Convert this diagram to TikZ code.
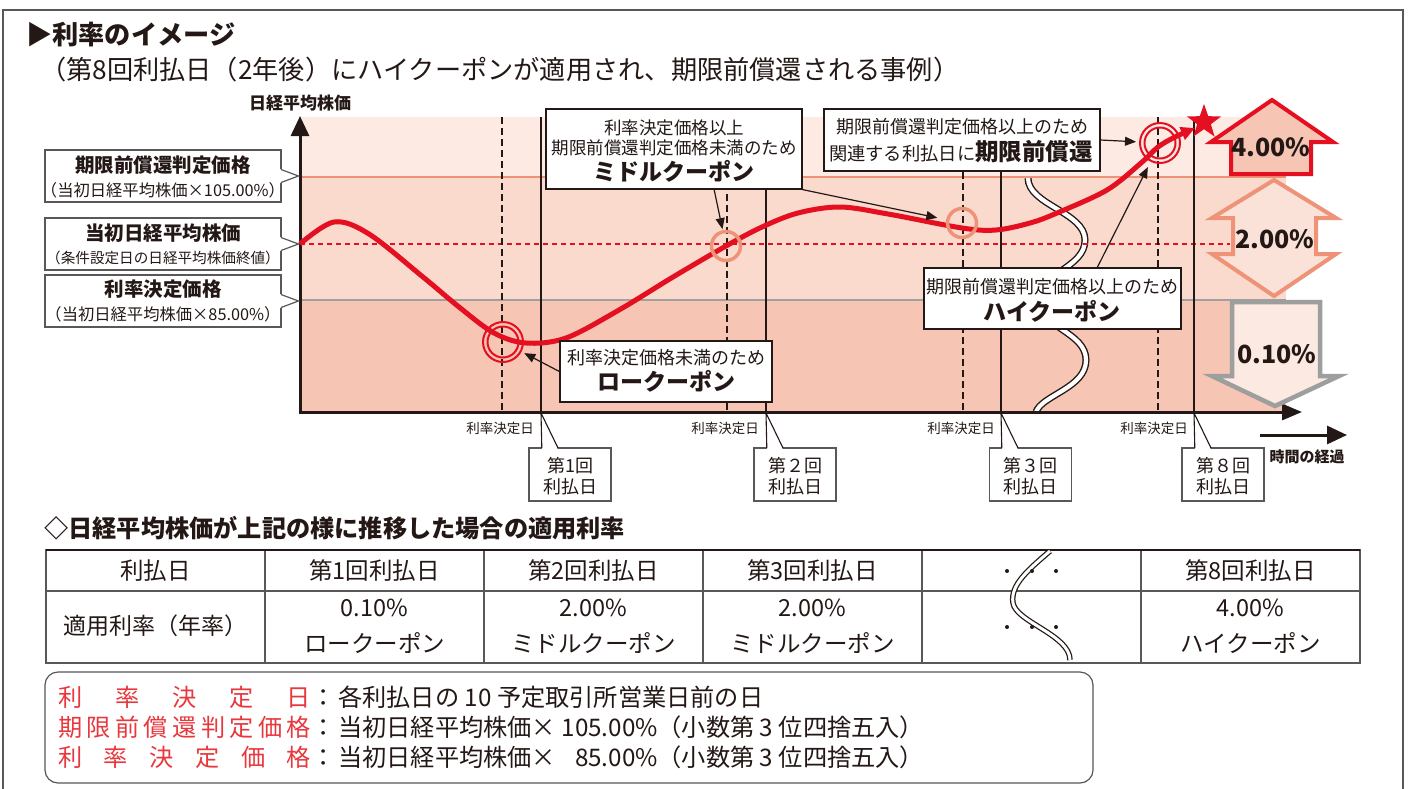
\documentclass[tikz,border=0pt]{standalone}
\usepackage{fontspec}
\setmainfont{Noto Sans CJK JP}
\usetikzlibrary{arrows.meta,shapes.geometric}
\definecolor{ink}{HTML}{231815}
\definecolor{bandA}{HTML}{FCEAE3}
\definecolor{bandB}{HTML}{F9DACD}
\definecolor{bandC}{HTML}{F6C5B3}
\definecolor{cred}{HTML}{E50F22}
\definecolor{salmon}{HTML}{EE9378}
\definecolor{gline}{HTML}{A0A0A0}
\definecolor{arrowB}{HTML}{FBE2D8}
\definecolor{arrowC}{HTML}{FCE9E2}
\definecolor{arrgray}{HTML}{9D9E9E}
\definecolor{redlab}{HTML}{E8383D}
\definecolor{framec}{HTML}{595757}
\definecolor{tabline}{HTML}{595757}
\newcommand{\fsz}[2]{\fontsize{#1}{#2}\selectfont}
\newcommand{\wavepath}{(1028,178) .. controls (1028,205) and (1085,212) .. (1085,240) .. controls (1085,268) and (1040,272) .. (1040,300) .. controls (1040,328) and (1086,332) .. (1086,360) .. controls (1086,388) and (1042,395) .. (1036,412)}
\newcommand{\tabwave}{(1050,551) .. controls (1028,570) and (1010,585) .. (1013,603) .. controls (1016,622) and (1070,635) .. (1070,660)}
\begin{document}
\begin{tikzpicture}[x=1pt,y=-1pt,
  box/.style={draw=ink, line width=1.2pt, fill=white, inner sep=0pt, rectangle},
  lbl/.style={inner sep=0pt, text=ink},
  cal/.style={draw=ink, line width=1.2pt, -{Triangle[length=11pt,width=9pt]}},
  vdash/.style={draw=ink, line width=1.1pt, dash pattern=on 7pt off 4pt},
  vsolid/.style={draw=ink, line width=1.1pt},
  ring/.style={circle, inner sep=0pt},
  tline/.style={draw=tabline, line width=1.2pt}
]
\useasboundingbox (0,0) rectangle (1410,788);
\fill[white] (0,0) rectangle (1410,788);
\draw[framec, line width=1.4pt] (3,792) -- (3,10) -- (1403,10) -- (1403,792);

\node[lbl, anchor=west] (title) at (26,35) {\fsz{26.2}{26}\bfseries ▶利率のイメージ};
\node[lbl, anchor=west] (subtitle) at (40,70) {\fsz{26.2}{26}（第8回利払日（2年後）にハイクーポンが適用され、期限前償還される事例）};

% bands
\fill[bandA] (300,117) rectangle (1286,177);
\fill[bandB] (300,177) rectangle (1286,300);
\fill[bandC] (300,300) rectangle (1286,412);

% wave break
\draw[ink, line width=7pt] \wavepath;
\draw[white, line width=4.2pt] \wavepath;

% horizontal levels
\draw[salmon, line width=2.6pt] (300,177) -- (1286,177);
\draw[gline, line width=2.2pt] (300,300) -- (1286,300);
\draw[cred, line width=2.2pt, dash pattern=on 5pt off 4pt] (300,244) -- (1230,244);

% verticals
\foreach \x in {502,727,963,1158} { \draw[vdash] (\x,117) -- (\x,412); }
\foreach \x in {541,766,1001,1194} { \draw[vsolid] (\x,117) -- (\x,414); }

% axes
\coordinate (O) at (300,413.5);
\coordinate (Ytip) at (300,116);
\coordinate (Xs) at (298.5,412);
\coordinate (Xtip) at (1302,412);
\draw[ink, line width=3pt, -{Triangle[length=20pt,width=18pt]}] (O) -- (Ytip);
\draw[ink, line width=3pt, -{Triangle[length=20pt,width=16pt]}] (Xs) -- (Xtip);
\node[lbl] (ylab) at (300,103) {\fsz{17}{17}\bfseries 日経平均株価};

% right arrows
\draw[cred, line width=4pt, fill=bandC] (1272,100) -- (1333,142) -- (1311,142) -- (1311,174) -- (1231,174) -- (1231,142) -- (1211,142) -- cycle;
\node[lbl] (r4) at (1271,147) {\fsz{25}{25}\bfseries 4.00\%};
\draw[salmon, line width=4pt, fill=arrowB] (1274,180) -- (1336,218) -- (1316,218) -- (1316,254) -- (1336,254) -- (1274,296) -- (1212,254) -- (1233,254) -- (1233,218) -- (1212,218) -- cycle;
\node[lbl] (r2) at (1275,239) {\fsz{25}{25}\bfseries 2.00\%};
\draw[arrgray, line width=4.5pt, fill=arrowC] (1232,302) -- (1320,302) -- (1320,376) -- (1339,376) -- (1275,406) -- (1212,376) -- (1232,376) -- cycle;
\node[lbl] (r0) at (1277,354) {\fsz{25}{25}\bfseries 0.10\%};

% price curve
\draw[cred, line width=5pt, -{Triangle[length=14pt,width=13pt]}] plot[smooth, tension=0.55] coordinates {(300,244) (334,222) (369,234) (423,277) (459,307) (494,333) (526,343) (566,338) (619,310) (673,277) (726,246) (762,227) (798,213) (840,207) (888,214) (962,228) (996,230) (1030,223) (1057,213) (1107,190) (1141,163) (1158,147) (1175,137) (1195,128)};

% circles
\node[ring, draw=cred, line width=2pt, minimum size=40pt] (c1o) at (503,342) {};
\node[ring, draw=cred, line width=2pt, minimum size=31pt] (c1i) at (503,342) {};
\node[ring, draw=salmon, line width=3.5pt, minimum size=29pt] (c2) at (726,246) {};
\node[ring, draw=salmon, line width=3.5pt, minimum size=29pt] (c3) at (962,223) {};
\node[ring, draw=cred, line width=2pt, minimum size=40pt] (c4o) at (1160,143) {};
\node[ring, draw=cred, line width=2pt, minimum size=31pt] (c4i) at (1160,143) {};
\node[star, star points=5, star point ratio=2.5, fill=cred, minimum size=36pt, inner sep=0pt] (star) at (1204,122) {};

% callouts
\node[box, minimum width=256pt, minimum height=80pt] (mbox) at (674,149) {};
\node[lbl] (m1) at (674,128) {\fsz{17.5}{18}利率決定価格以上};
\node[lbl] (m2) at (674,148) {\fsz{17.5}{18}期限前償還判定価格未満のため};
\node[lbl] (m3) at (674,171) {\fsz{23}{23}\bfseries ミドルクーポン};

\node[box, minimum width=212pt, minimum height=61pt] (lbox) at (666,371.5) {};
\node[lbl] (l1) at (666,358) {\fsz{18}{18}利率決定価格未満のため};
\node[lbl] (l2) at (666,381) {\fsz{23}{23}\bfseries ロークーポン};

\node[box, minimum width=276pt, minimum height=62pt] (tbox) at (962,140) {};
\node[lbl] (tb1) at (962,127) {\fsz{18}{18}期限前償還判定価格以上のため};
\node[lbl] (tb2) at (961,152) {\fsz{18.3}{18}関連する利払日に\fsz{23.5}{24}\bfseries 期限前償還};

\node[box, minimum width=257pt, minimum height=61pt] (hbox) at (1052.5,298.5) {};
\node[lbl] (h1) at (1052,287) {\fsz{18}{18}期限前償還判定価格以上のため};
\node[lbl] (h2) at (1052,311) {\fsz{23}{23}\bfseries ハイクーポン};

\coordinate (mA) at (714,189);
\coordinate (hA) at (1097,268);
\draw[cal, shorten >=1pt] (mA) -- (c2);
\draw[cal, shorten >=9pt] (mbox.south east) -- (c3);
\draw[cal, shorten >=3pt] (lbox.west) -- (c1o);
\draw[cal, shorten >=3pt] (tbox.east) -- (c4o);
\draw[cal, shorten >=6pt] (hA) -- (c4o);

% left level boxes
\node[box, draw=framec, minimum width=236pt, minimum height=52pt] (b1) at (163,176) {};
\fill[white] (280,169) -- (298.5,176) -- (280,183) -- cycle;
\draw[framec, line width=1.2pt] (281,169.5) -- (298.5,176) -- (281,182.5);
\node[lbl] (b1a) at (163,165) {\fsz{19.5}{20}\bfseries 期限前償還判定価格};
\node[lbl] (b1b) at (163,190) {\fsz{16.3}{16}（当初日経平均株価×105.00\%）};

\node[box, draw=framec, minimum width=236pt, minimum height=52pt] (b2) at (163,244) {};
\fill[white] (280,237) -- (298.5,244) -- (280,251) -- cycle;
\draw[framec, line width=1.2pt] (281,237.5) -- (298.5,244) -- (281,250.5);
\node[lbl] (b2a) at (163,233) {\fsz{19.5}{20}\bfseries 当初日経平均株価};
\node[lbl] (b2b) at (163,258) {\fsz{14.6}{15}（条件設定日の日経平均株価終値）};

\node[box, draw=framec, minimum width=236pt, minimum height=52pt] (b3) at (163,301) {};
\fill[white] (280,294) -- (298.5,301) -- (280,308) -- cycle;
\draw[framec, line width=1.2pt] (281,294.5) -- (298.5,301) -- (281,307.5);
\node[lbl] (b3a) at (163,289) {\fsz{19.5}{20}\bfseries 利率決定価格};
\node[lbl] (b3b) at (163,314) {\fsz{16.3}{16}（当初日経平均株価×85.00\%）};

% axis labels
\node[lbl] (d1) at (500,428) {\fsz{13.5}{14}利率決定日};
\node[lbl] (d2) at (725,428) {\fsz{13.5}{14}利率決定日};
\node[lbl] (d3) at (961,428) {\fsz{13.5}{14}利率決定日};
\node[lbl] (d8) at (1154,428) {\fsz{13.5}{14}利率決定日};

% payment day boxes
\foreach \px/\cx/\nm/\lab in {541/570/pd1/第1回, 766/795/pd2/第２回, 1001/1030.5/pd3/第３回, 1194/1223/pd8/第８回} {
  \node[box, draw=framec, minimum width=82pt, minimum height=53pt] (\nm) at (\cx,474.5) {};
  \fill[white] (\px,414) -- (\px+0.8,449.6) -- (\px+17,449.6) -- cycle;
  \draw[ink, line width=1.1pt] (\px,413) -- (\px+0.8,448) (\px,413) -- (\px+17,448);
  \node[lbl] (\nm a) at (\cx,466) {\fsz{18}{18}\lab};
  \node[lbl] (\nm b) at (\cx,487) {\fsz{18}{18}利払日};
}

% time arrow
\coordinate (ta0) at (1260,435);
\coordinate (ta1) at (1347,435);
\draw[ink, line width=3pt, -{Triangle[length=20pt,width=18pt]}] (ta0) -- (ta1);
\node[lbl] (tlab) at (1307,457) {\fsz{15}{15}\bfseries 時間の経過};

% table
\node[lbl, anchor=west] (sec) at (44,528) {\fsz{24.2}{24}\bfseries ◇日経平均株価が上記の様に推移した場合の適用利率};
\draw[tline] (46,550) rectangle (1360,663);
\draw[tline] (46,591) -- (1360,591);
\foreach \x in {265,484,703,922,1141} { \draw[tline] (\x,550) -- (\x,663); }
\draw[ink, line width=1.6pt] (46,550) -- (1360,550);
\node[lbl] (th0) at (155.5,571) {\fsz{23.5}{24}利払日};
\node[lbl] (th1) at (374.5,571) {\fsz{23.5}{24}第1回利払日};
\node[lbl] (th2) at (593.5,571) {\fsz{23.5}{24}第2回利払日};
\node[lbl] (th3) at (812.5,571) {\fsz{23.5}{24}第3回利払日};
\node[lbl] (th8) at (1250.5,571) {\fsz{23.5}{24}第8回利払日};
\node[lbl] (tr0) at (155.5,626) {\fsz{23}{24}適用利率（年率）};
\node[lbl] (tr1a) at (374.5,608) {\fsz{23.5}{24}0.10\%};
\node[lbl] (tr1b) at (374.5,643) {\fsz{23.5}{24}ロークーポン};
\node[lbl] (tr2a) at (593.5,608) {\fsz{23.5}{24}2.00\%};
\node[lbl] (tr2b) at (593.5,643) {\fsz{23.5}{24}ミドルクーポン};
\node[lbl] (tr3a) at (812.5,608) {\fsz{23.5}{24}2.00\%};
\node[lbl] (tr3b) at (812.5,643) {\fsz{23.5}{24}ミドルクーポン};
\node[lbl] (tr8a) at (1250.5,608) {\fsz{23.5}{24}4.00\%};
\node[lbl] (tr8b) at (1250.5,643) {\fsz{23.5}{24}ハイクーポン};
\draw[ink, line width=5.5pt] \tabwave;
\draw[white, line width=3pt] \tabwave;
\foreach \x in {1007,1032,1056} { \fill[ink] (\x,571) circle (2); \fill[ink] (\x,627) circle (2); }

% footnote
\draw[framec, line width=1.2pt, rounded corners=13pt] (45,672) rectangle (1093,783);
\node[lbl, anchor=west] (f1) at (58,697) {\fsz{24.2}{24}{\color{redlab}\makebox[253pt][s]{利\hfill 率\hfill 決\hfill 定\hfill 日}}：\hspace{3pt}各利払日の 10 予定取引所営業日前の日};
\node[lbl, anchor=west] (f2) at (58,727) {\fsz{24.2}{24}{\color{redlab}\makebox[253pt][s]{期\hfill 限\hfill 前\hfill 償\hfill 還\hfill 判\hfill 定\hfill 価\hfill 格}}：\hspace{3pt}当初日経平均株価× 105.00\%（小数第 3 位四捨五入）};
\node[lbl, anchor=west] (f3) at (58,757) {\fsz{24.2}{24}{\color{redlab}\makebox[253pt][s]{利\hfill 率\hfill 決\hfill 定\hfill 価\hfill 格}}：\hspace{3pt}当初日経平均株価×\ \hphantom{1}85.00\%（小数第 3 位四捨五入）};
\end{tikzpicture}
\end{document}
